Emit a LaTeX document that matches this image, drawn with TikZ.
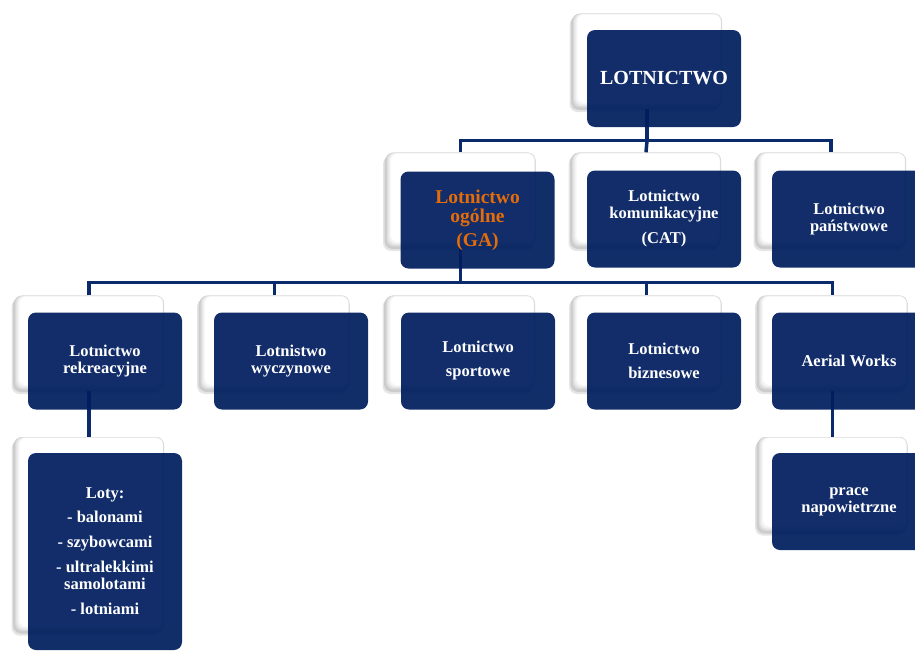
\documentclass[tikz,border=0pt]{standalone}
\usepackage{fontspec}
\setmainfont{Liberation Serif}
\usetikzlibrary{shadows}

\definecolor{navy}{HTML}{001E5E}
\definecolor{linkblue}{HTML}{0B2A6C}
\definecolor{gaorange}{HTML}{E46C0A}

\begin{document}
\begin{tikzpicture}[
    x=1pt, y=-1pt,
    backbox/.style={fill=gray!40, rounded corners=8pt,
        minimum width=150pt, minimum height=95pt, inner sep=0pt,
        general shadow={shadow xshift=-2.5pt, shadow yshift=-3.5pt, fill=black, opacity=0.10},
        drop shadow={shadow xshift=-1pt, shadow yshift=-1.5pt, opacity=0.25},
        path picture={
            \foreach \i/\c in {1/gray!30, 2/gray!20, 3/gray!12, 4/gray!6, 5/white}
                \fill[\c, rounded corners=7pt]
                    ([shift={(1.1*\i pt, 1.1*\i pt)}]path picture bounding box.south west)
                    rectangle ([shift={(-0.3*\i pt, -0.2*\i pt)}]path picture bounding box.north east);
        }},
    frontbox/.style={fill=navy, fill opacity=0.93, text opacity=1, rounded corners=8pt,
        minimum width=154pt, minimum height=97pt, inner sep=0pt,
        text=white, align=center, font=\bfseries\fontsize{16.5}{17}\selectfont},
    link/.style={draw=linkblue, line width=3.5pt}
]
    \useasboundingbox (0,0) rectangle (915,653);
    \clip (0,0) rectangle (915,653);

    % white boxes behind
    \node[backbox] (lotB) at (647,61) {};
    \node[backbox] (gaB)  at (460.5,200) {};
    \node[backbox] (catB) at (646,200) {};
    \node[backbox] (panB) at (831,200) {};
    \node[backbox] (rekB) at (89,343) {};
    \node[backbox] (wycB) at (274.5,343) {};
    \node[backbox] (spoB) at (460,343) {};
    \node[backbox] (bizB) at (646.5,343) {};
    \node[backbox] (aerB) at (832.5,343) {};
    \node[backbox, minimum height=195pt] (lotyB) at (89,534.5) {};
    \node[backbox] (praB) at (832.5,484.5) {};

    % connectors
    \draw[link] (lotB.south) -- ++(0,32) coordinate (bar1);
    \draw[link] (gaB.north) |- (bar1) -| (panB.north);
    \draw[link] (bar1) -- (catB.north);

    \draw[link] (gaB.south) -- ++(0,35) coordinate (bar2);
    \draw[link] (rekB.north) |- (bar2) -| (aerB.north);
    \draw[link] (wycB.north) -- (wycB.north |- bar2);
    \draw[link] (bizB.north) -- (bizB.north |- bar2);

    \draw[link] (rekB.south) -- (lotyB.north);
    \draw[link] (aerB.south) -- (praB.north);

    % navy boxes in front
    \node[frontbox, font=\bfseries\fontsize{20}{22}\selectfont]
        (lot) at ([shift={(17,17.5)}]lotB.center) {LOTNICTWO};
    \node[frontbox, text=gaorange, font=\bfseries\fontsize{19.5}{19}\selectfont]
        (ga) at ([shift={(17,20)}]gaB.center) {Lotnictwo\\ogólne\\[5pt](GA)};
    \node[frontbox] (cat) at ([shift={(18,19)}]catB.center)
        {Lotnictwo\\komunikacyjne\\[8pt](CAT)};
    \node[frontbox] (pan) at ([shift={(18,19)}]panB.center)
        {Lotnictwo\\państwowe};
    \node[frontbox] (rek) at ([shift={(16,18)}]rekB.center)
        {Lotnictwo\\rekreacyjne};
    \node[frontbox] (wyc) at ([shift={(16.5,18)}]wycB.center)
        {Lotnistwo\\wyczynowe};
    \node[frontbox] (spo) at ([shift={(18,18)}]spoB.center)
        {Lotnictwo\\[7pt]sportowe};
    \node[frontbox] (biz) at ([shift={(17.5,18)}]bizB.center)
        {Lotnictwo\\[7pt]biznesowe};
    \node[frontbox] (aer) at ([shift={(16.5,18)}]aerB.center)
        {Aerial Works};
    \node[frontbox, minimum height=197pt] (loty) at ([shift={(16,17)}]lotyB.center)
        {Loty:\\[7pt]- balonami\\[8pt]- szybowcami\\[8pt]- ultralekkimi\\samolotami\\[8pt]- lotniami};
    \node[frontbox] (pra) at ([shift={(16.5,17)}]praB.center)
        {prace\\napowietrzne};

\end{tikzpicture}
\end{document}
